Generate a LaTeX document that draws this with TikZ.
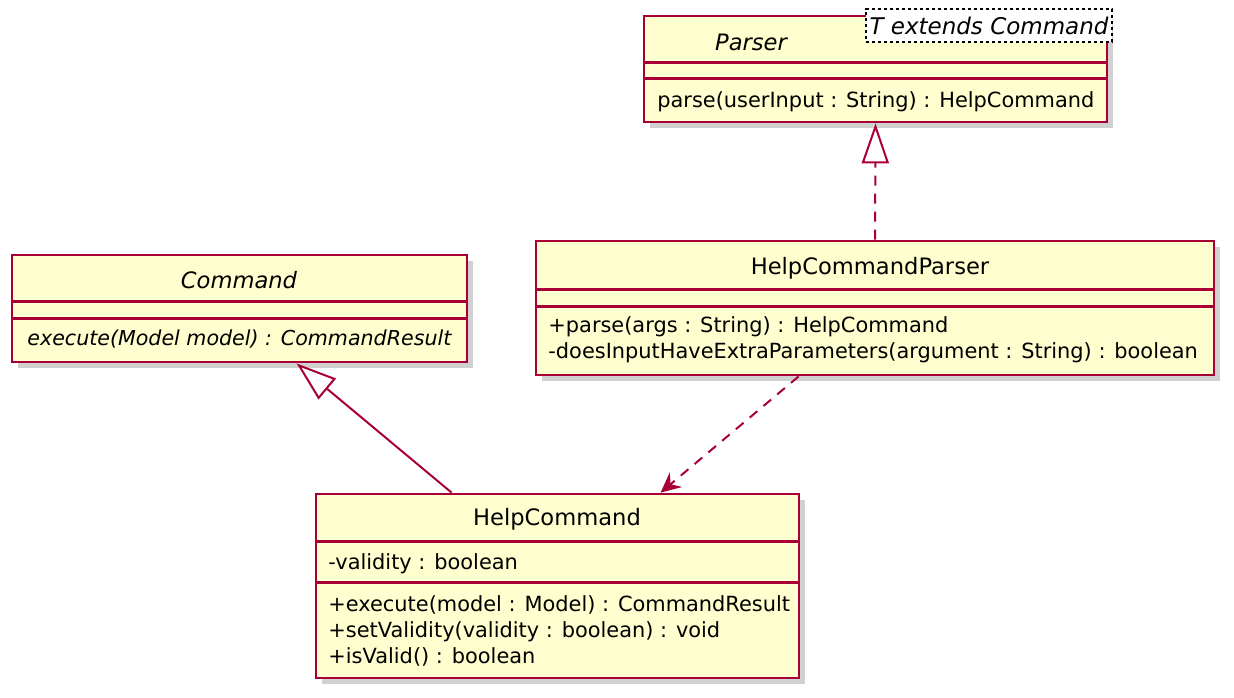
\documentclass[tikz,border=0pt]{standalone}
\usepackage{fontspec}
\setmainfont{DejaVu Sans}
\usetikzlibrary{arrows.meta,shadows,fit,calc}

\definecolor{umlred}{HTML}{A80036}
\definecolor{umlfill}{HTML}{FEFECE}

\tikzset{
  cls/.style={draw=umlred,fill=umlfill,line width=1.4pt,inner sep=0pt,
    drop shadow={shadow xshift=2.8pt,shadow yshift=-2.8pt,fill=black!30,opacity=.6}},
  sep/.style={draw=umlred,line width=1.3pt},
  clsname/.style={inner sep=0pt,font=\fontsize{11.3}{13}\selectfont},
  member/.style={inner sep=0pt,anchor=west,text height=7.5pt,text depth=2.2pt,
    font=\fontsize{10.45}{13}\selectfont},
  tmplbox/.style={draw=black,dash pattern=on 1.6pt off 1.4pt,line width=.7pt,fill=white,inner sep=0pt},
  link/.style={draw=umlred,line width=1pt},
  dashlink/.style={link,dash pattern=on 5pt off 4pt},
  realize/.style={-{Triangle[open,length=20pt,width=13.5pt]}},
  depend/.style={-{Stealth[length=10pt,width=9.5pt,inset=3.5pt]}}
}

\begin{document}
\begin{tikzpicture}[x=0.5pt,y=-0.5pt]
  \useasboundingbox (0,0) rectangle (1234,697);

  % Parser
  \node[cls,fit={(644,16) (1107,122)}] (parser) {};
  \draw[sep] ($(parser.north west)+(0,48)$) -- ($(parser.north east)+(0,48)$);
  \draw[sep] ($(parser.north west)+(0,64)$) -- ($(parser.north east)+(0,64)$);
  \node[clsname,font=\fontsize{11.3}{13}\selectfont\itshape] (parsername) at (751,42) {Parser};
  \node[member] (parsem1) at (657,102) {parse(userInput : String) : HelpCommand};
  % Template
  \node[tmplbox,fit={(866,9) (1112,42)}] (tparam) {};
  \node[clsname,font=\fontsize{11.5}{13}\selectfont\itshape] (tparamname) at (tparam.center) {T extends Command};

  % Command
  \node[cls,fit={(12,255) (467,362)}] (cmd) {};
  \draw[sep] ($(cmd.north west)+(0,48)$) -- ($(cmd.north east)+(0,48)$);
  \draw[sep] ($(cmd.north west)+(0,65)$) -- ($(cmd.north east)+(0,65)$);
  \node[clsname,font=\fontsize{11.3}{13}\selectfont\itshape] (cmdname) at (239,280) {Command};
  \node[member,font=\fontsize{10.3}{13}\selectfont\itshape] (cmdm1) at (27,340) {execute(Model model) : CommandResult};

  % HelpCommandParser
  \node[cls,fit={(536,241) (1214,375)}] (hcp) {};
  \draw[sep] ($(hcp.north west)+(0,50)$) -- ($(hcp.north east)+(0,50)$);
  \draw[sep] ($(hcp.north west)+(0,67)$) -- ($(hcp.north east)+(0,67)$);
  \node[clsname] (hcpname) at (870,268) {HelpCommandParser};
  \node[member] (hcpm1) at (548,327) {+parse(args : String) : HelpCommand};
  \node[member] (hcpm2) at (548,353) {-doesInputHaveExtraParameters(argument : String) : boolean};

  % HelpCommand
  \node[cls,fit={(316,494) (799,678)}] (hc) {};
  \draw[sep] ($(hc.north west)+(0,49)$) -- ($(hc.north east)+(0,49)$);
  \draw[sep] ($(hc.north west)+(0,90)$) -- ($(hc.north east)+(0,90)$);
  \node[clsname] (hcname) at (557,519) {HelpCommand};
  \node[member] (hcf1) at (328,564) {-validity : boolean};
  \node[member] (hcm1) at (328,606) {+execute(model : Model) : CommandResult};
  \node[member] (hcm2) at (328,632) {+setValidity(validity : boolean) : void};
  \node[member] (hcm3) at (328,658) {+isValid() : boolean};

  % Verbindungen
  \draw[dashlink,realize] (hcp.north) -- (parser.south);
  \draw[link,realize] ($(hc.north west)+(137,0)$) -- ($(cmd.south west)+(286,0)$);
  \draw[dashlink,depend] ($(hcp.south west)+(264,0)$) -- ($(hc.north west)+(346,0)$);
\end{tikzpicture}
\end{document}
